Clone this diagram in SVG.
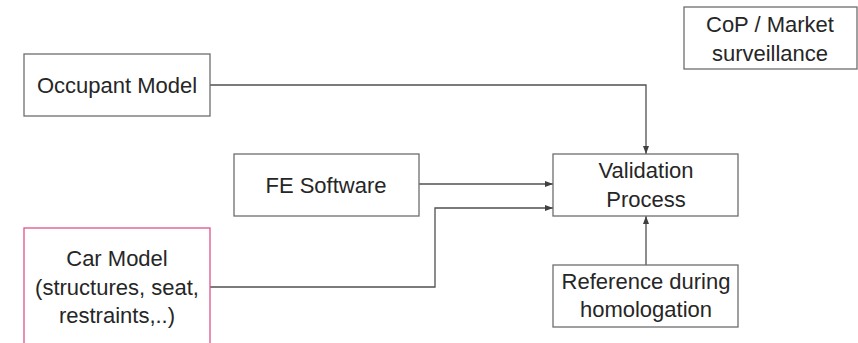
<svg xmlns="http://www.w3.org/2000/svg" width="858" height="343" viewBox="0 0 858 343">
<style>
.box{fill:#ffffff;stroke:#6e6e6e;stroke-width:1.3}
.pink{fill:#ffffff;stroke:#e0528a;stroke-width:1.3}
.t{font-family:"Liberation Sans",Arial,sans-serif;font-size:22px;fill:#262626;text-anchor:middle}
.c{fill:none;stroke:#505050;stroke-width:1.3}
</style>
<defs>
<marker id="ah" viewBox="0 0 8 6" refX="8" refY="3" markerWidth="8" markerHeight="6" markerUnits="userSpaceOnUse" orient="auto">
<path d="M0,0 L8,3 L0,6 Z" fill="#404040"/>
</marker>
</defs>
<rect width="858" height="343" fill="#ffffff"/>
<g id="connectors">
<path class="c" d="M210,85 H646 V154" marker-end="url(#ah)"/>
<path class="c" d="M419,184 H553" marker-end="url(#ah)"/>
<path class="c" d="M210,287 H435 V208 H553" marker-end="url(#ah)"/>
<path class="c" d="M646,265 V216" marker-end="url(#ah)"/>
</g>
<g id="occupant">
<rect class="box" x="24" y="54" width="186" height="62"/>
<text class="t" x="117" y="93">Occupant Model</text>
</g>
<g id="fe">
<rect class="box" x="234" y="154" width="185" height="62"/>
<text class="t" x="326" y="193">FE Software</text>
</g>
<g id="car">
<rect class="pink" x="24" y="228" width="186" height="130"/>
<text class="t" x="117" y="266">Car Model</text>
<text class="t" x="117" y="295">(structures, seat,</text>
<text class="t" x="117" y="323">restraints,..)</text>
</g>
<g id="validation">
<rect class="box" x="553" y="154" width="185" height="62"/>
<text class="t" x="646" y="178">Validation</text>
<text class="t" x="646" y="207">Process</text>
</g>
<g id="reference">
<rect class="box" x="553" y="265" width="185" height="62"/>
<text class="t" x="646" y="289">Reference during</text>
<text class="t" x="646" y="317">homologation</text>
</g>
<g id="cop">
<rect class="box" x="684" y="7" width="173" height="62"/>
<text class="t" x="770" y="32">CoP / Market</text>
<text class="t" x="770" y="61">surveillance</text>
</g>
</svg>
